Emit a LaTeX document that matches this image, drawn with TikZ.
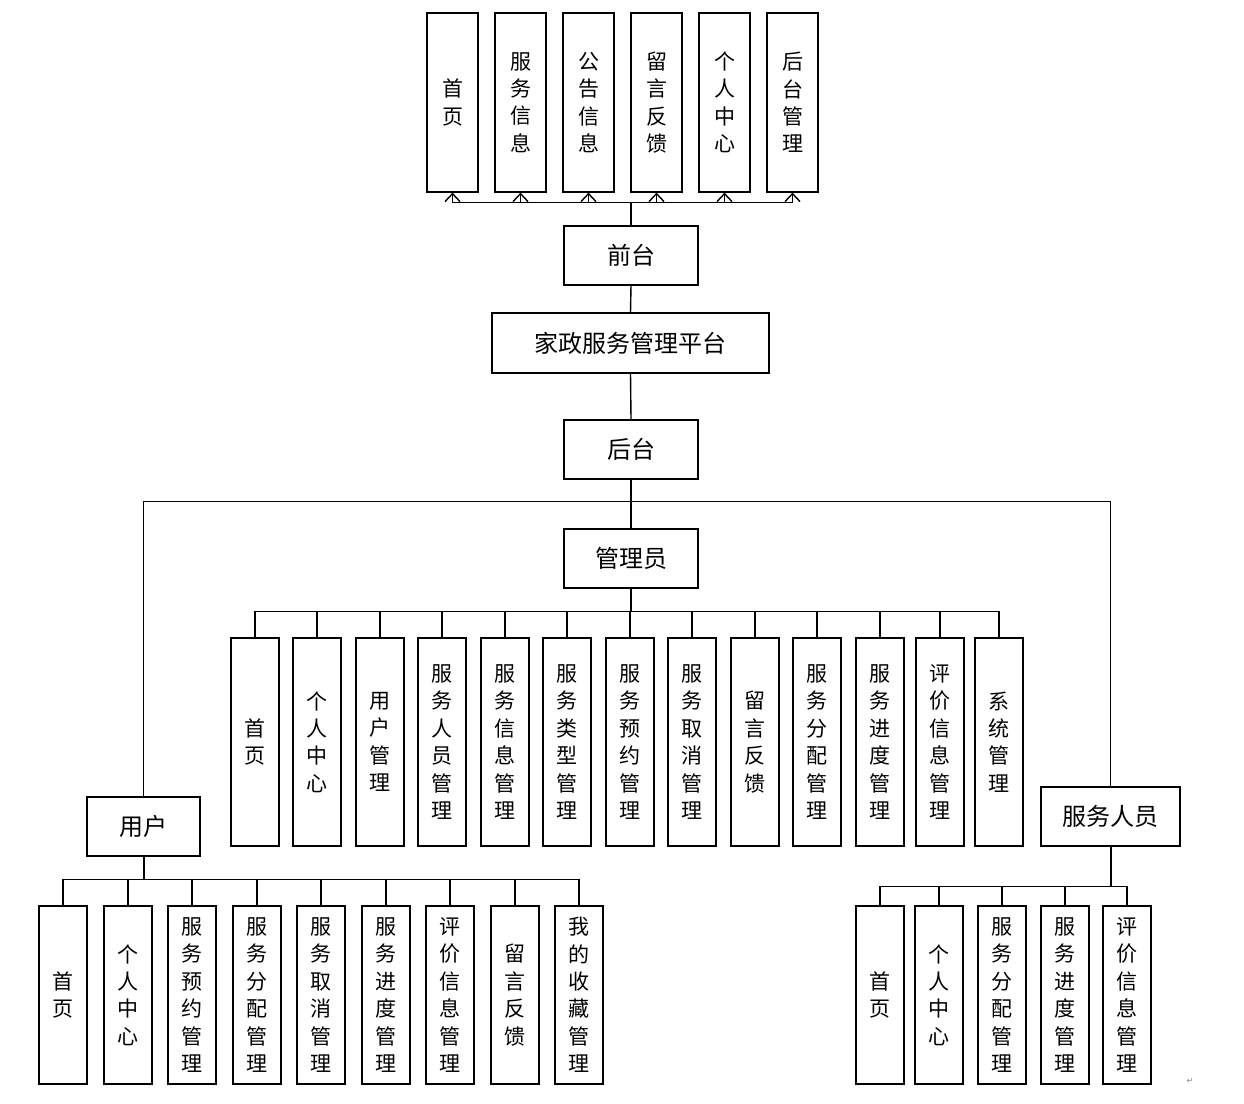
\documentclass[tikz,border=0pt]{standalone}
\usepackage{fontspec}
\newfontfamily\cjk{Noto Sans CJK SC}
\newfontfamily\dv{DejaVu Sans}
\usetikzlibrary{arrows.meta}
\begin{document}
\begin{tikzpicture}[x=1pt,y=-1pt,
  box/.style={draw=black,line width=1.2pt,inner sep=0pt,font=\cjk\fontsize{21}{27.4}\selectfont,align=center},
  vbox/.style={box,minimum width=48pt,minimum height=178pt},
  tbox/.style={box,minimum width=51pt,minimum height=179pt},
  hbox/.style={box,minimum width=134pt,minimum height=59pt,font=\cjk\fontsize{24}{28}\selectfont},
  conn/.style={draw=black,line width=1.4pt},
  stem/.style={draw=black,line width=2pt},
  arr/.style={conn,-{Straight Barb[length=8pt,width=15pt,line width=1.4pt]}}]
\useasboundingbox (0,0) rectangle (1244,1103);
% top boxes
\node[tbox] (t1) at (452.5,102.5) {首\\页};
\node[tbox] (t2) at (520.5,102.5) {服\\务\\信\\息};
\node[tbox] (t3) at (588.5,102.5) {公\\告\\信\\息};
\node[tbox] (t4) at (656.5,102.5) {留\\言\\反\\馈};
\node[tbox] (t5) at (724.5,102.5) {个\\人\\中\\心};
\node[tbox] (t6) at (792.5,102.5) {后\\台\\管\\理};
% main column
\node[hbox] (qt) at (631,255.5) {前台};
\node[hbox,minimum width=277pt,minimum height=60pt] (pt) at (630.5,343) {家政服务管理平台};
\node[hbox] (ht) at (631,449.5) {后台};
\node[hbox] (gly) at (631,558.5) {管理员};
\node[hbox,minimum width=113pt] (yh) at (143.5,826.5) {用户};
\node[hbox,minimum width=139pt] (fw) at (1110.5,816.5) {服务人员};
% admin children
\node[vbox,minimum height=208pt] (a1) at (255,742) {首\\页};
\node[vbox,minimum height=208pt] (a2) at (317,742) {个\\人\\中\\心};
\node[vbox,minimum height=208pt] (a3) at (380,742) {用\\户\\管\\理};
\node[vbox,minimum height=208pt] (a4) at (442,742) {服\\务\\人\\员\\管\\理};
\node[vbox,minimum height=208pt] (a5) at (505,742) {服\\务\\信\\息\\管\\理};
\node[vbox,minimum height=208pt] (a6) at (567,742) {服\\务\\类\\型\\管\\理};
\node[vbox,minimum height=208pt] (a7) at (630,742) {服\\务\\预\\约\\管\\理};
\node[vbox,minimum height=208pt] (a8) at (692,742) {服\\务\\取\\消\\管\\理};
\node[vbox,minimum height=208pt] (a9) at (755,742) {留\\言\\反\\馈};
\node[vbox,minimum height=208pt] (a10) at (817,742) {服\\务\\分\\配\\管\\理};
\node[vbox,minimum height=208pt] (a11) at (880,742) {服\\务\\进\\度\\管\\理};
\node[vbox,minimum height=208pt] (a12) at (940,742) {评\\价\\信\\息\\管\\理};
\node[vbox,minimum height=208pt] (a13) at (999,742) {系\\统\\管\\理};
% user children
\node[vbox] (u1) at (63,995) {首\\页};
\node[vbox] (u2) at (128,995) {个\\人\\中\\心};
\node[vbox] (u3) at (192,995) {服\\务\\预\\约\\管\\理};
\node[vbox] (u4) at (257,995) {服\\务\\分\\配\\管\\理};
\node[vbox] (u5) at (321,995) {服\\务\\取\\消\\管\\理};
\node[vbox] (u6) at (386,995) {服\\务\\进\\度\\管\\理};
\node[vbox] (u7) at (450,995) {评\\价\\信\\息\\管\\理};
\node[vbox] (u8) at (515,995) {留\\言\\反\\馈};
\node[vbox] (u9) at (579,995) {我\\的\\收\\藏\\管\\理};
% service children
\node[vbox] (s1) at (880,995) {首\\页};
\node[vbox] (s2) at (939,995) {个\\人\\中\\心};
\node[vbox] (s3) at (1002,995) {服\\务\\分\\配\\管\\理};
\node[vbox] (s4) at (1065,995) {服\\务\\进\\度\\管\\理};
\node[vbox] (s5) at (1127,995) {评\\价\\信\\息\\管\\理};
% top arrows
\draw[stem] (qt.north) -- ++(0,-23);
\foreach \t in {t1,t2,t3,t4,t5,t6}
  \draw[arr] (qt.north) ++(0,-23) -| (\t.south);
% column
\draw[conn] (qt.south) -- (pt.north);
\draw[conn] (pt.south) -- (ht.north);
\draw[conn] (ht.south) -- (gly.north);
\draw[conn] (ht.south) ++(0,22) -| (yh.north);
\draw[conn] (ht.south) ++(0,22) -| (fw.north);
% admin bus
\draw[stem] (gly.south) -- ++(0,23);
\foreach \a in {a1,a2,a3,a4,a5,a6,a7,a8,a9,a10,a11,a12,a13}
  \draw[conn] (gly.south) ++(0,23) -| (\a.north);
% user bus
\draw[stem] (yh.south) -- ++(0,23);
\foreach \a in {u1,u2,u3,u4,u5,u6,u7,u8,u9}
  \draw[conn] (yh.south) ++(0,23) -| (\a.north);
% service bus
\draw[stem] (fw.south) -- ++(0,40);
\foreach \a in {s1,s2,s3,s4,s5}
  \draw[conn] (fw.south) ++(0,40) -| (\a.north);
\node[font=\dv\fontsize{8}{8}\selectfont,text=gray] (pm) at (1190,1081) {↵};
\end{tikzpicture}
\end{document}
